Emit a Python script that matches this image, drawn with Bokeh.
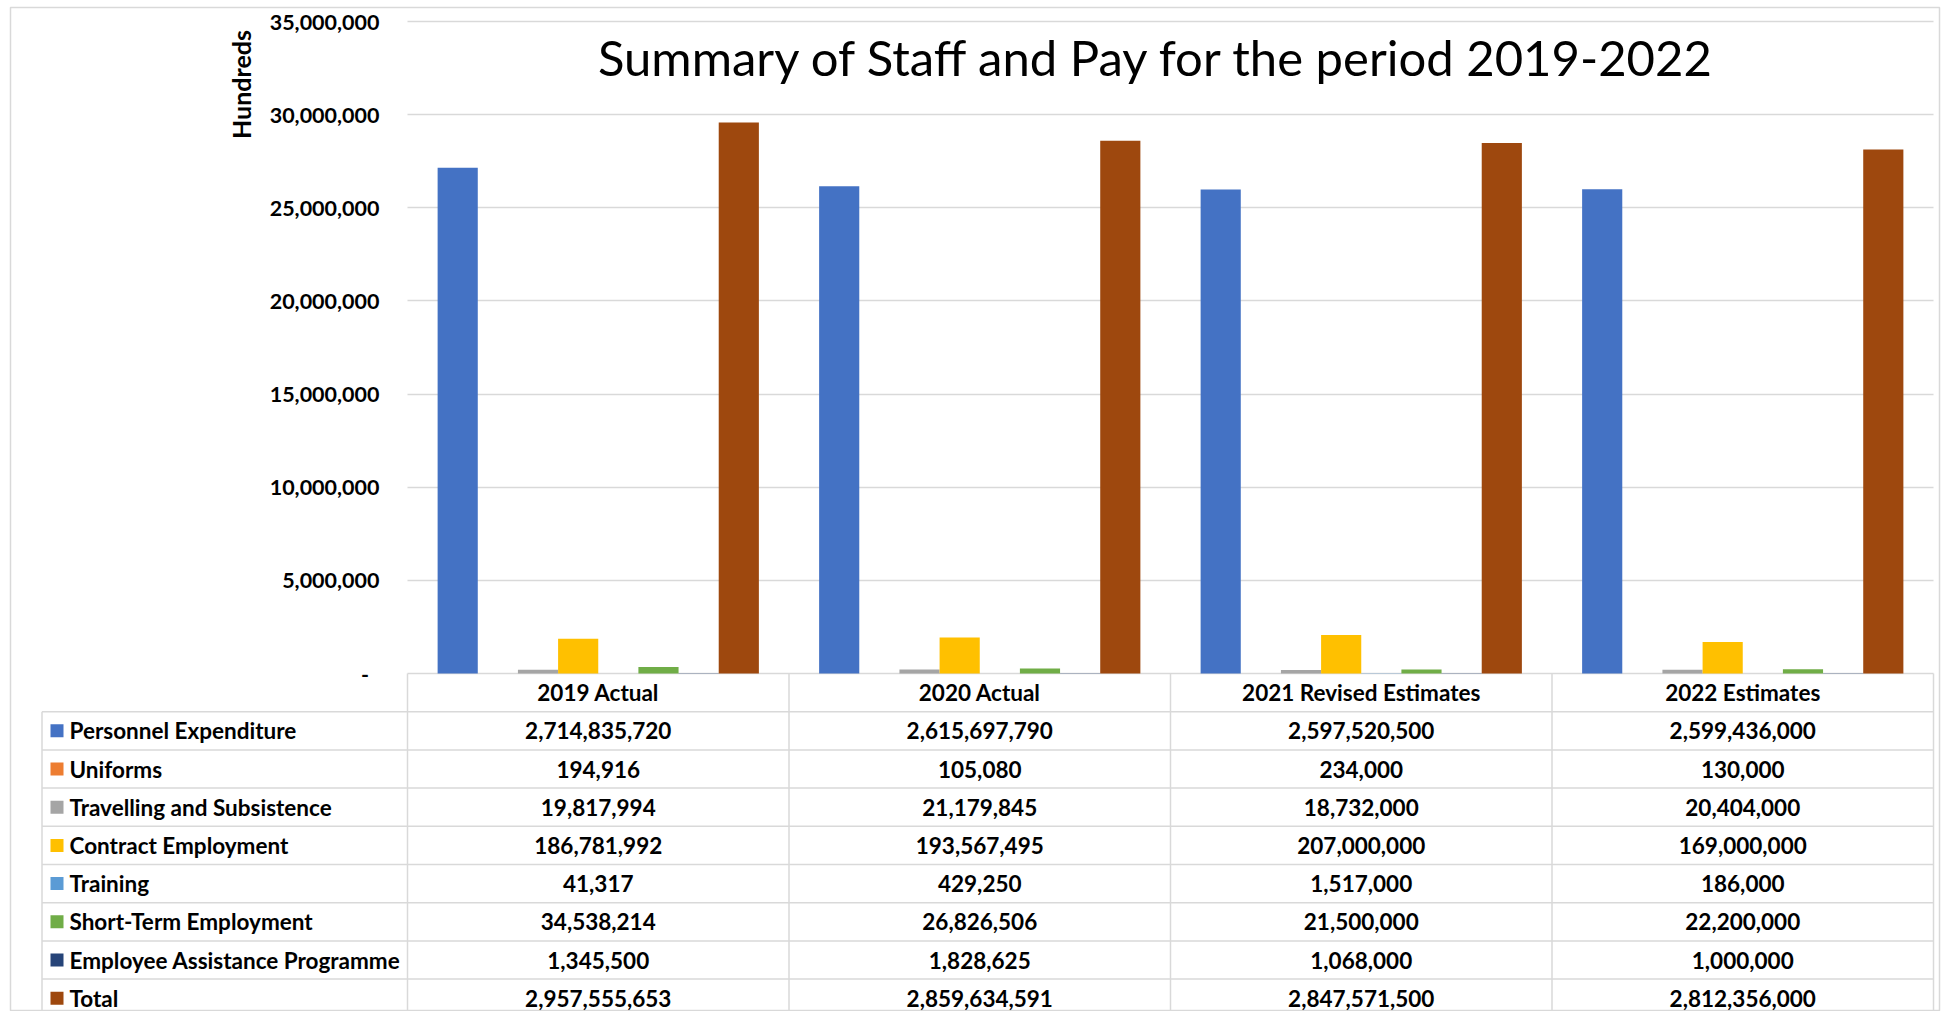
import math
from bokeh.plotting import figure
from bokeh.models import Range1d, FixedTicker, CustomJSTickFormatter, Label, ColumnDataSource
from bokeh.transform import dodge
from bokeh.core.properties import value
from bokeh.embed import file_html
from bokeh.resources import INLINE

# ---------------- data ----------------
categories = ["2019 Actual", "2020 Actual", "2021 Revised Estimates", "2022 Estimates"]
series_names = ["Personnel Expenditure", "Uniforms", "Travelling and Subsistence",
                "Contract Employment", "Training", "Short-Term Employment",
                "Employee Assistance Programme", "Total"]
series_colors = ["#4472C4", "#ED7D31", "#A5A5A5", "#FFC000", "#5B9BD5", "#70AD47",
                 "#264478", "#9E480E"]
personnel = [2714835720, 2615697790, 2597520500, 2599436000]
uniforms = [194916, 105080, 234000, 130000]
travelling = [19817994, 21179845, 18732000, 20404000]
contract = [186781992, 193567495, 207000000, 169000000]
training = [41317, 429250, 1517000, 186000]
short_term = [34538214, 26826506, 21500000, 22200000]
eap = [1345500, 1828625, 1068000, 1000000]
total = [2957555653, 2859634591, 2847571500, 2812356000]
series_values = [personnel, uniforms, travelling, contract, training, short_term, eap, total]
y_ticks = [0, 5000000, 10000000, 15000000, 20000000, 25000000, 30000000, 35000000]
display_unit = 100          # axis shown in "Hundreds"
unit_label = "Hundreds"
title_text = "Summary of Staff and Pay for the period 2019-2022"

# ---------------- layout (pixels) ----------------
W, H = 1941, 1011
FL, FR, FT, FB = 10, 1939, 7, 1011        # frame edges on the canvas
CAT_LEFT, CAT_W = 407, 381.5              # start / width of a category column
ZERO_Y, TOP_Y = 673, 21                   # pixel of 0 and of top tick
ROW_H = 38.2
ppu = (ZERO_Y - TOP_Y) / y_ticks[-1]

def xd(px):
    return (px - CAT_LEFT) / CAT_W

def yd(py):
    return (ZERO_Y - py) / ppu

def td(py):
    return (ZERO_Y - py) / ROW_H

FONT = "Lato"
GRID_C = "#D9D9D9"

p = figure(width=W, height=H, output_backend="svg", toolbar_location=None,
           x_axis_location=None, title=None,
           x_range=Range1d(xd(FL), xd(FR)), y_range=Range1d(yd(FB), yd(FT)),
           min_border_left=FL, min_border_right=W - FR, min_border_top=FT,
           min_border_bottom=H - FB)
p.extra_y_ranges = {"table": Range1d(td(FB), td(FT))}
p.background_fill_color = "white"
p.border_fill_color = "white"
p.outline_line_color = GRID_C
p.outline_line_width = 1.5

# y axis
ax = p.yaxis[0]
ax.ticker = FixedTicker(ticks=y_ticks)
ax.formatter = CustomJSTickFormatter(
    code="return tick == 0 ? '-\\u00a0\\u00a0' : tick.toLocaleString('en-US');")
ax.fixed_location = 0
ax.axis_line_color = None
ax.major_tick_line_color = None
ax.minor_tick_line_color = None
ax.major_tick_out = 0
ax.major_label_standoff = 28
ax.major_label_text_font = FONT
ax.major_label_text_font_size = "21.5px"
ax.major_label_text_font_style = "bold"
ax.major_label_text_color = "#000000"

g = p.ygrid[0]
g.ticker = FixedTicker(ticks=y_ticks)
g.grid_line_color = GRID_C
g.grid_line_width = 1.5
try:
    g.cross_bounds = (0, len(categories))
except Exception:
    pass
for xg in p.xgrid:
    xg.visible = False

# bars
n_s = len(series_names)
bw = 1.0 / (n_s + 1.5)
for j, (name, vals, col) in enumerate(zip(series_names, series_values, series_colors)):
    src = ColumnDataSource(dict(x=[i + 0.5 for i in range(len(categories))],
                                top=[v / display_unit for v in vals]))
    p.vbar(x=dodge("x", (j - (n_s - 1) / 2) * bw, range=p.x_range), top="top",
           width=bw, bottom=0, source=src, fill_color=col, line_color=None)

# title and unit label
p.add_layout(Label(x=xd(1157), y=yd(56), text=title_text, text_align="center",
                   text_baseline="middle", text_font=FONT, text_font_size="49px",
                   text_color="#000000"))
p.add_layout(Label(x=xd(240), y=yd(84), text=unit_label, angle=math.pi / 2,
                   text_align="center", text_baseline="middle", text_font=FONT,
                   text_font_size="25px", text_font_style="bold", text_color="#000000"))

# data table
n_rows = len(series_names)
tab_left = xd(41.5)
x_cols = list(range(len(categories) + 1))
hx0 = [tab_left] * (n_rows + 1)
hx1 = [len(categories)] * (n_rows + 1)
hy = [-(k + 1) for k in range(n_rows + 1)]
p.segment(x0=hx0, x1=hx1, y0=hy, y1=hy, y_range_name="table",
          line_color=GRID_C, line_width=1.5)
vx = [tab_left] + x_cols
vy0 = [-1] + [0] * len(x_cols)
vy1 = [-(n_rows + 1)] * len(vx)
p.segment(x0=vx, x1=vx, y0=vy0, y1=vy1, y_range_name="table",
          line_color=GRID_C, line_width=1.5)

txt = dict(text_font=value(FONT), text_font_size="22.5px", text_font_style="bold",
           text_color="#000000", text_baseline="middle")
p.text(x=[i + 0.5 for i in range(len(categories))], y=[-0.5] * len(categories),
       text=categories, text_align="center", y_range_name="table", **txt)

row_y = [-(k + 1.5) for k in range(n_rows)]
p.rect(x=[xd(56.5)] * n_rows, y=row_y, width=13, height=13, width_units="screen",
       height_units="screen", fill_color=series_colors, line_color=None,
       y_range_name="table")
p.text(x=[xd(69)] * n_rows, y=row_y, text=series_names, text_align="left",
       y_range_name="table", **txt)

cx, cy, ct = [], [], []
for k, vals in enumerate(series_values):
    for i, v in enumerate(vals):
        cx.append(i + 0.5)
        cy.append(row_y[k])
        ct.append(f"{v:,}")
p.text(x=cx, y=cy, text=ct, text_align="center", y_range_name="table", **txt)

open("out.html", "w").write(file_html(p, INLINE))
